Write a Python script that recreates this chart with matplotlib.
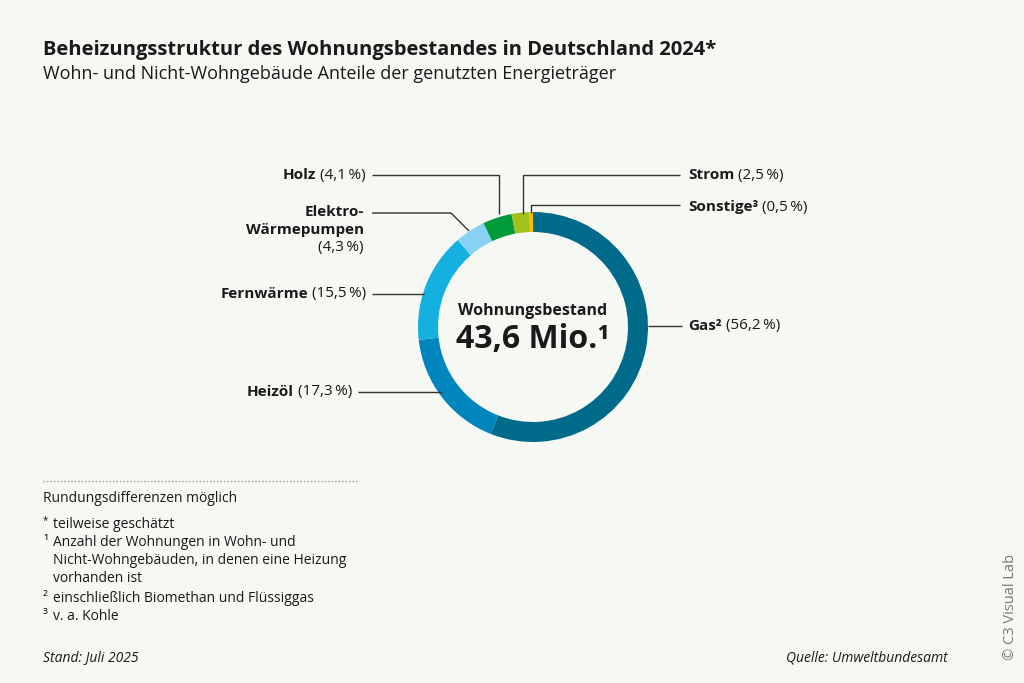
import matplotlib
matplotlib.use('Agg')
import matplotlib.pyplot as plt

plt.rcParams['font.family'] = ['Open Sans', 'DejaVu Sans']

# data
names = ['Gas²', 'Heizöl', 'Fernwärme', 'Elektro-\nWärmepumpen', 'Holz', 'Strom', 'Sonstige³']
shares = [56.2, 17.3, 15.5, 4.3, 4.1, 2.5, 0.5]
share_text = ['(56,2\u2009%)', '(17,3\u2009%)', '(15,5\u2009%)', '(4,3\u2009%)',
              '(4,1\u2009%)', '(2,5\u2009%)', '(0,5\u2009%)']
colors = ['#006a8a', '#0086bd', '#14b0e0', '#88d1f5', '#009b3a', '#a2c11c', '#f2c200']

bg = '#f6f8f4'
dark = '#1a1a1a'
H = 683

fig = plt.figure(figsize=(10.24, 6.83), dpi=100, facecolor=bg)
ax = fig.add_axes([0, 0, 1, 1])
ax.set_facecolor(bg)

cx, cy, R = 533, H - 327, 115
ax.pie(shares, colors=colors, startangle=90, counterclock=False,
       radius=R, center=(cx, cy),
       wedgeprops=dict(width=20, edgecolor='none', linewidth=0))
ax.set_xlim(0, 1024)
ax.set_ylim(0, H)
ax.set_aspect('equal')
ax.axis('off')

fig.canvas.draw()
rend = fig.canvas.get_renderer()


def y(py):
    return H - py


def label(px, py, bold, reg, side):
    # bold name + regular share, side = 'left' means text ends at px
    if side == 'left':
        t = ax.text(px, y(py), ' ' + reg, ha='right', va='center', fontsize=11, color=dark)
        bb = t.get_window_extent(rend)
        x0 = ax.transData.inverted().transform((bb.x0, 0))[0]
        ax.text(x0, y(py), bold, ha='right', va='center', fontsize=11,
                fontweight='bold', color=dark)
    else:
        t = ax.text(px, y(py), bold, ha='left', va='center', fontsize=11,
                    fontweight='bold', color=dark)
        bb = t.get_window_extent(rend)
        x1 = ax.transData.inverted().transform((bb.x1, 0))[0]
        ax.text(x1, y(py), ' ' + reg, ha='left', va='center', fontsize=11, color=dark)


def lead(xs, ys):
    ax.plot(xs, [y(v) for v in ys], color='#333333', lw=1, solid_capstyle='butt')


# leader lines
lead([372, 499, 499], [175, 175, 214])          # Holz
lead([680, 523, 523], [175, 175, 214])          # Strom
lead([680, 531, 531], [205, 205, 213])          # Sonstige
lead([372, 451, 469], [213, 213, 231])          # Wärmepumpen
lead([372, 424], [294, 294])                    # Fernwärme
lead([358, 442], [392, 392])                    # Heizöl
lead([648, 682], [326, 326])                    # Gas

label(366, 175, names[4], share_text[4], 'left')
label(688, 175, names[5], share_text[5], 'right')
label(688, 207, names[6], share_text[6], 'right')
label(688, 326, names[0], share_text[0], 'right')
label(366, 294, names[2], share_text[2], 'left')
label(352, 392, names[1], share_text[1], 'left')
ax.text(364, y(212), 'Elektro-', ha='right', va='center', fontsize=11,
        fontweight='bold', color=dark)
ax.text(364, y(230), 'Wärmepumpen', ha='right', va='center', fontsize=11,
        fontweight='bold', color=dark)
ax.text(364, y(248), share_text[3], ha='right', va='center', fontsize=11, color=dark)

# centre
ax.text(cx, y(311), 'Wohnungsbestand', ha='center', va='center', fontsize=11.5,
        fontweight='bold', color=dark)
ax.text(cx, y(339), '43,6 Mio.¹', ha='center', va='center', fontsize=23,
        fontweight='bold', color=dark)

# title
ax.text(43, y(50), 'Beheizungsstruktur des Wohnungsbestandes in Deutschland 2024*',
        ha='left', va='center', fontsize=14.5, fontweight='bold', color=dark)
ax.text(43, y(74), 'Wohn- und Nicht-Wohngebäude Anteile der genutzten Energieträger',
        ha='left', va='center', fontsize=13, color=dark)

# footnotes
ax.plot([43, 358], [y(481), y(481)], color='#999999', lw=1, ls=(0, (1, 1.5)))
fs = 10
ax.text(43, y(499), 'Rundungsdifferenzen möglich', ha='left', va='center', fontsize=fs, color=dark)
notes = [('*', 'teilweise geschätzt', 524),
         ('¹', 'Anzahl der Wohnungen in Wohn- und', 542),
         ('', 'Nicht-Wohngebäuden, in denen eine Heizung', 561),
         ('', 'vorhanden ist', 579),
         ('²', 'einschließlich Biomethan und Flüssiggas', 598),
         ('³', 'v. a. Kohle', 616)]
for mark, txt, py in notes:
    if mark == '*':
        ax.text(43, y(py - 3), mark, ha='left', va='center', fontsize=7, color=dark)
    elif mark:
        ax.text(43, y(py), mark, ha='left', va='center', fontsize=fs, color=dark)
    ax.text(53, y(py), txt, ha='left', va='center', fontsize=fs, color=dark)

ax.text(43, y(658), 'Stand: Juli 2025', ha='left', va='center', fontsize=fs,
        style='italic', color=dark)
ax.text(948, y(658), 'Quelle: Umweltbundesamt', ha='right', va='center', fontsize=fs,
        style='italic', color=dark)
ax.text(1010, y(607), '© C3 Visual Lab', ha='center', va='center', fontsize=10.5,
        rotation=90, color='#777777')

fig.savefig('out.png', dpi=100, facecolor=bg)
